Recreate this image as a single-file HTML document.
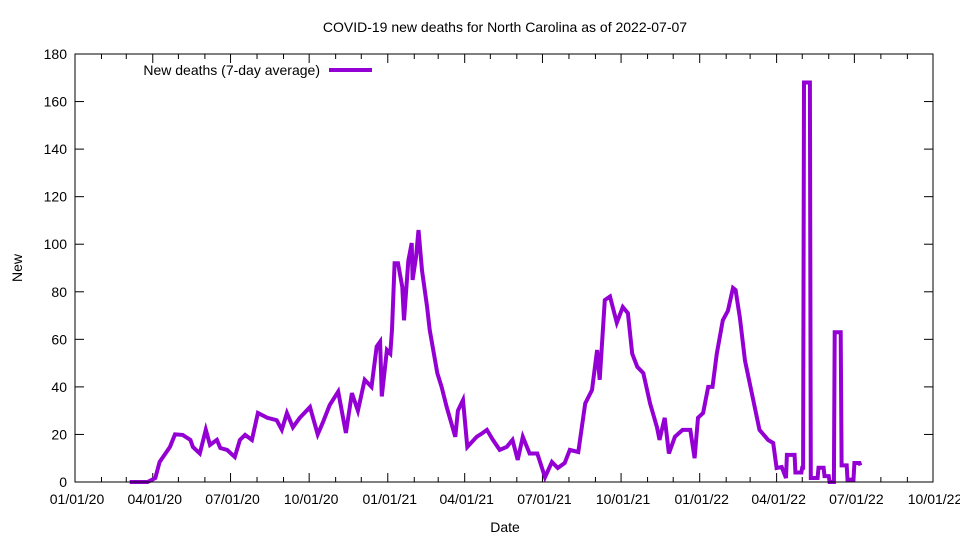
<!DOCTYPE html>
<html><head><meta charset="utf-8"><style>
body{margin:0;background:#fff;}
svg{display:block;font-family:"Liberation Sans",sans-serif;}
</style></head><body>
<svg id="chart" width="960" height="540" xmlns="http://www.w3.org/2000/svg">
<text x="505" y="32" font-size="14" text-anchor="middle">COVID-19 new deaths for North Carolina as of 2022-07-07</text>
<text x="505" y="532" font-size="14" text-anchor="middle">Date</text>
<text x="22" y="268" font-size="14" text-anchor="middle" transform="rotate(-90 22 268)">New</text>
<g id="axes"></g>
<g id="series"></g>
<g>
<text x="320" y="75" font-size="14" text-anchor="end">New deaths (7-day average)</text>
<line x1="329" y1="70" x2="372" y2="70" stroke="#9400d3" stroke-width="4"/>
</g>
<rect x="75" y="54" width="858" height="428" fill="none" stroke="#000" stroke-width="1"/>
</svg>
<script>
const days = [64,85,94,99,111,117,126,135,138,146,153,158,166,170,178,187,193,199,207,214,225,236,242,248,255,263,275,284,290,298,308,317,324,331,339,347,353,357,359,365,369,371,374,378,383,385,390,394,395,399,402,406,412,415,424,429,435,445,448,454,459,470,477,482,489,497,505,512,518,524,532,541,550,558,565,573,579,589,597,605,611,614,620,626,634,641,647,652,658,665,673,681,684,690,695,702,711,720,725,729,735,741,746,751,758,764,770,773,778,784,792,801,811,817,821,827,832,833,842,843,850,851,852,853,860,861,869,870,876,877,882,883,888,889,896,897,903,904,911,912,918,919];
const deaths = [0,0,1.7,8.4,14.7,20,19.8,17.7,14.7,12,22,15.6,17.7,14.3,13.5,10.5,17.7,19.8,17.7,29,27,26,22,29,23,27,31.5,20,25,32.4,38,20.6,37.4,30,43,40,57,59,36,55.5,54,64,92,92,82,68,93,100.5,85,94.6,106,89,73.6,64,45.8,40,31.5,19,30,34.5,14.7,19,20.6,21.9,17.7,13.5,14.7,17.7,9.3,19,12,12,2,8.4,5.9,8,13.5,12.6,33,38.7,55.5,43,76.5,78,67,73.6,71,54,48.4,45.8,33,23,17.7,27,12,19,21.9,21.9,10,27,29,40,40,54,68,72,81.6,80.7,69,51,37.4,21.9,17.7,16.4,5.9,6.3,1.7,11.4,11.4,4,4,6,6,168,168,1.7,1.7,6,6,2.5,2.5,0,0,63,63,7,7,1,1,8,8,7];
const yTicks = [0,20,40,60,80,100,120,140,160,180];
const xTickLabels = ["01/01/20","04/01/20","07/01/20","10/01/20","01/01/21","04/01/21","07/01/21","10/01/21","01/01/22","04/01/22","07/01/22","10/01/22"];

const NS="http://www.w3.org/2000/svg";
const L=75,R=933,T=54,B=482,DMAX=1004,YMAX=180;
const xs=d=>L+(R-L)*d/DMAX;
const ys=v=>B-(B-T)*v/YMAX;
const axes=document.getElementById('axes');
function mk(tag,at,parent){const e=document.createElementNS(NS,tag);for(const k in at)e.setAttribute(k,at[k]);parent.appendChild(e);return e;}
yTicks.forEach(v=>{
  const y=ys(v);
  const t=mk('line',{x1:L,y1:y,x2:L+9,y2:y,stroke:'#000'},axes);
  
  
  const t2=mk('line',{x1:R,y1:y,x2:R-9,y2:y,stroke:'#000'},axes);
  
  
  const lb=mk('text',{x:L-8,y:y+5,'font-size':14,'text-anchor':'end'},axes);
  lb.textContent=v;
  
  
});
const base=Date.UTC(2020,0,1);
for(let m=0;m<=33;m++){
  const d=(Date.UTC(2020,m,1)-base)/86400000;
  const x=xs(d);
  const major=m%3===0;
  const len=major?9:5;
  const t=mk('line',{x1:x,y1:B,x2:x,y2:B-len,stroke:'#000'},axes);
  
  
  const t2=mk('line',{x1:x,y1:T,x2:x,y2:T+len,stroke:'#000'},axes);
  
  
  if(major){
    const lb=mk('text',{x:x+2,y:B+22,'font-size':14,'text-anchor':'middle'},axes);
    lb.textContent=xTickLabels[m/3];
    
    
  }
}
const pts=days.map((d,i)=>xs(d).toFixed(1)+','+ys(deaths[i]).toFixed(1)).join(' ');
const line=mk('polyline',{points:pts,fill:'none',stroke:'#9400d3','stroke-width':4,'stroke-linejoin':'miter'},document.getElementById('series'));


</script>
</body></html>
